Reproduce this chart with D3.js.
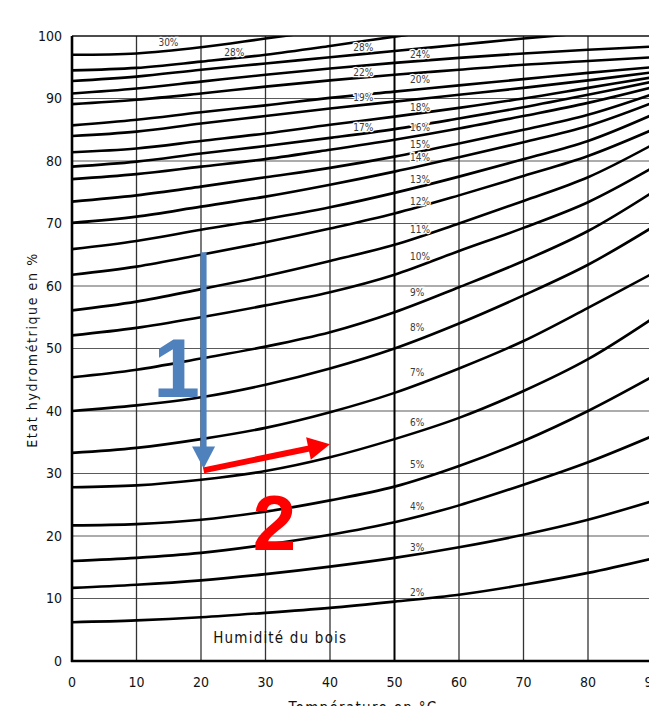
<!DOCTYPE html>
<html>
<head>
<meta charset="utf-8">
<script src="https://cdn.jsdelivr.net/npm/d3@7"></script>
<style>
  html, body { margin: 0; padding: 0; background: #fff; overflow: hidden; }
  svg { display: block; }
  .tick-label { font-family: "DejaVu Sans Condensed", "DejaVu Sans", sans-serif; font-size: 14px; fill: #111; }
  .curve-label { font-family: "DejaVu Sans Condensed", "DejaVu Sans", sans-serif; font-size: 10px; fill: #3a3a3a; }
</style>
</head>
<body>
<div id="chart"></div>
<script>
// temperatures (°C) where the curves were read
const temps = [0, 10, 20, 30, 40, 50, 60, 70, 80, 90];

// relative humidity (%) for each wood moisture level, read at the temps above
const rh02 = [6.2, 6.5, 7.0, 7.7, 8.5, 9.5, 10.6, 12.2, 14.1, 16.4];
const rh03 = [11.7, 12.2, 12.9, 13.9, 15.1, 16.5, 18.2, 20.2, 22.6, 25.6];
const rh04 = [16.0, 16.5, 17.3, 18.6, 20.2, 22.2, 24.9, 28.2, 31.8, 36.0];
const rh05 = [21.7, 21.9, 22.6, 23.9, 25.7, 27.9, 31.2, 35.2, 40.0, 45.5];
const rh06 = [27.8, 28.1, 29.0, 30.4, 32.6, 35.5, 38.9, 43.2, 48.3, 54.8];
const rh07 = [33.3, 34.1, 35.5, 37.3, 39.8, 42.9, 46.8, 51.2, 56.5, 62.0];
const rh08 = [40.0, 40.9, 42.2, 44.2, 46.8, 50.0, 54.0, 58.5, 63.4, 69.4];
const rh09 = [45.4, 46.6, 48.4, 50.3, 52.6, 55.8, 59.8, 64.0, 68.8, 75.0];
const rh10 = [52.1, 53.3, 55.0, 56.9, 59.0, 61.8, 65.6, 69.3, 73.4, 78.9];
const rh11 = [56.1, 57.5, 59.5, 61.6, 64.0, 66.6, 70.0, 73.6, 77.4, 82.6];
const rh12 = [61.8, 63.1, 65.0, 67.0, 69.2, 71.6, 74.5, 77.6, 80.8, 85.0];
const rh13 = [65.9, 67.2, 69.0, 70.7, 72.6, 74.9, 77.5, 80.3, 83.2, 87.4];
const rh14 = [70.1, 71.1, 72.7, 74.3, 76.2, 78.3, 80.6, 83.0, 85.6, 89.3];
const rh15 = [73.5, 74.5, 75.9, 77.4, 78.9, 80.7, 82.8, 85.0, 87.4, 90.7];
const rh16 = [77.1, 77.9, 79.1, 80.3, 81.8, 83.4, 85.2, 87.2, 89.3, 91.8];
const rh17 = [79.1, 79.9, 81.2, 82.4, 83.7, 85.1, 86.8, 88.6, 90.6, 92.7];
const rh18 = [81.4, 82.0, 83.2, 84.4, 85.8, 87.1, 88.5, 90.0, 91.7, 93.4];
const rh19 = [84.0, 84.7, 86.0, 87.2, 88.4, 89.5, 90.6, 91.7, 92.9, 94.2];
const rh20 = [85.7, 86.6, 87.8, 88.9, 90.1, 91.1, 92.1, 93.1, 94.1, 95.0];
const rh22 = [89.1, 89.8, 90.8, 91.9, 92.9, 93.8, 94.6, 95.4, 96.0, 96.6];
const rh24 = [90.8, 91.6, 92.7, 93.8, 94.8, 95.7, 96.5, 97.2, 97.8, 98.3];
const rh26 = [92.8, 93.5, 94.6, 95.6, 96.6, 97.6, 98.6, 99.6, 100.5];
const rh28 = [94.5, 94.9, 95.9, 97.0, 98.4, 99.9, 101.3];
const rh30 = [97.0, 97.2, 98.2, 99.6, 101.0];

const curves = [rh02, rh03, rh04, rh05, rh06, rh07, rh08, rh09, rh10, rh11, rh12,
  rh13, rh14, rh15, rh16, rh17, rh18, rh19, rh20, rh22, rh24, rh26, rh28, rh30];

// curve labels (text as printed) and where they sit, in chart units
const labelText = ["2%", "3%", "4%", "5%", "6%", "7%", "8%", "9%", "10%", "11%", "12%", "13%",
  "14%", "15%", "16%", "18%", "20%", "24%", "17%", "19%", "22%", "28%", "28%", "30%"];
const labelX = [52.4, 52.4, 52.4, 52.4, 52.4, 52.4, 52.4, 52.4, 52.4, 52.4, 52.4, 52.4,
  52.4, 52.4, 52.4, 52.4, 52.4, 52.4, 43.6, 43.6, 43.6, 43.6, 23.6, 13.4];
const labelY = [10.9, 18.2, 24.8, 31.5, 38.2, 46.1, 53.3, 59.0, 64.8, 69.0, 73.6, 77.1,
  80.5, 82.7, 85.3, 88.5, 93.1, 97.1, 85.4, 90.1, 94.1, 98.1, 97.3, 98.9];

const xTicks = [0, 10, 20, 30, 40, 50, 60, 70, 80, 90];
const yTicks = [0, 10, 20, 30, 40, 50, 60, 70, 80, 90, 100];

// reading arrows
const arrowBlue = [[20.4, 65.4], [20.4, 30.8]];
const arrowRed = [[20.4, 30.5], [40.0, 34.7]];
const stepOne = [16.2, 42.2];
const stepTwo = [31.4, 17.8];

const W = 649, H = 706;
const x = d3.scaleLinear().domain([0, 90]).range([72, 652.5]);
const y = d3.scaleLinear().domain([0, 100]).range([661, 36]);

const svg = d3.select('#chart').append('svg')
  .attr('width', W).attr('height', H);

svg.append('defs').append('clipPath').attr('id', 'plot')
  .append('rect')
  .attr('x', x(0)).attr('y', y(100))
  .attr('width', x(90) - x(0)).attr('height', y(0) - y(100));

// grid
const grid = svg.append('g');
grid.selectAll('line.h')
  .data(yTicks.filter(d => d > 0 && d < 100))
  .enter().append('line')
  .attr('x1', x(0)).attr('x2', x(90))
  .attr('y1', d => y(d)).attr('y2', d => y(d))
  .attr('stroke', '#5a5a5a').attr('stroke-width', 1.2);
grid.selectAll('line.v')
  .data(xTicks.filter(d => d > 0))
  .enter().append('line')
  .attr('x1', d => x(d)).attr('x2', d => x(d))
  .attr('y1', y(0)).attr('y2', y(100))
  .attr('stroke', d => d === 50 ? '#000' : '#333')
  .attr('stroke-width', d => d === 50 ? 2 : 1.3);

// top border
svg.append('line')
  .attr('x1', x(0)).attr('x2', x(90))
  .attr('y1', y(100)).attr('y2', y(100))
  .attr('stroke', '#111').attr('stroke-width', 1.6);

// curves
const line = d3.line()
  .x((d, i) => x(temps[i]))
  .y(d => y(d))
  .curve(d3.curveCatmullRom.alpha(0.5));

svg.append('g').attr('clip-path', 'url(#plot)')
  .selectAll('path')
  .data(curves)
  .enter().append('path')
  .attr('d', line)
  .attr('fill', 'none')
  .attr('stroke', '#000')
  .attr('stroke-width', 2.6);

// curve labels
svg.append('g').selectAll('text')
  .data(labelText)
  .enter().append('text')
  .attr('class', 'curve-label')
  .attr('x', (d, i) => x(labelX[i]))
  .attr('y', (d, i) => y(labelY[i]))
  .attr('dy', '0.35em')
  .attr('stroke', '#fff').attr('stroke-width', 2.5)
  .attr('paint-order', 'stroke')
  .text(d => d);

// axes lines
svg.append('line')
  .attr('x1', x(0)).attr('x2', x(0))
  .attr('y1', y(0) + 1).attr('y2', y(100))
  .attr('stroke', '#000').attr('stroke-width', 2.6);
svg.append('line')
  .attr('x1', x(0) - 1).attr('x2', x(90))
  .attr('y1', y(0)).attr('y2', y(0))
  .attr('stroke', '#000').attr('stroke-width', 2.6);

// tick labels
svg.append('g').selectAll('text')
  .data(xTicks)
  .enter().append('text')
  .attr('class', 'tick-label')
  .attr('x', d => x(d)).attr('y', 687)
  .attr('text-anchor', 'middle')
  .text(d => d);
svg.append('g').selectAll('text')
  .data(yTicks)
  .enter().append('text')
  .attr('class', 'tick-label')
  .attr('x', 62).attr('y', d => y(d))
  .attr('dy', '0.35em')
  .attr('text-anchor', 'end')
  .text(d => d);

// axis titles
svg.append('text')
  .attr('class', 'tick-label')
  .attr('transform', 'translate(37,350) rotate(-90)')
  .attr('text-anchor', 'middle')
  .style('letter-spacing', '1.6px')
  .text('Etat hydrométrique en %');
svg.append('text')
  .attr('class', 'tick-label')
  .attr('x', 363).attr('y', 713)
  .attr('text-anchor', 'middle')
  .style('font-size', '15px')
  .style('letter-spacing', '1.3px')
  .text('Température en °C');

svg.append('text')
  .attr('class', 'tick-label')
  .attr('x', x(21.9)).attr('y', y(3.8))
  .attr('dy', '0.35em')
  .style('font-size', '15px')
  .style('letter-spacing', '1.2px')
  .text('Humidité du bois');

// arrows
function drawArrow(pts, color) {
  const p0 = [x(pts[0][0]), y(pts[0][1])];
  const p1 = [x(pts[1][0]), y(pts[1][1])];
  const dx = p1[0] - p0[0], dy = p1[1] - p0[1];
  const len = Math.sqrt(dx * dx + dy * dy);
  const ux = dx / len, uy = dy / len;
  const headLen = 22, headW = 11.5;
  const bx = p1[0] - ux * headLen, by = p1[1] - uy * headLen;
  svg.append('line')
    .attr('x1', p0[0]).attr('y1', p0[1])
    .attr('x2', bx + ux * 2).attr('y2', by + uy * 2)
    .attr('stroke', color).attr('stroke-width', 6);
  svg.append('path')
    .attr('d', 'M' + p1[0] + ',' + p1[1] +
      'L' + (bx - uy * headW) + ',' + (by + ux * headW) +
      'L' + (bx + uy * headW) + ',' + (by - ux * headW) + 'Z')
    .attr('fill', color);
}
drawArrow(arrowBlue, '#4f81bd');
drawArrow(arrowRed, '#ff0000');

svg.append('text')
  .attr('x', x(stepOne[0])).attr('y', y(stepOne[1]))
  .attr('text-anchor', 'middle')
  .style('font-family', '"Liberation Sans", Arial, sans-serif')
  .style('font-weight', 'bold').style('font-size', '84px')
  .attr('fill', '#4f81bd')
  .text('1');
svg.append('text')
  .attr('x', x(stepTwo[0])).attr('y', y(stepTwo[1]))
  .attr('text-anchor', 'middle')
  .style('font-family', '"Liberation Sans", Arial, sans-serif')
  .style('font-weight', 'bold').style('font-size', '78px')
  .attr('fill', '#ff0000')
  .text('2');
</script>
</body>
</html>
